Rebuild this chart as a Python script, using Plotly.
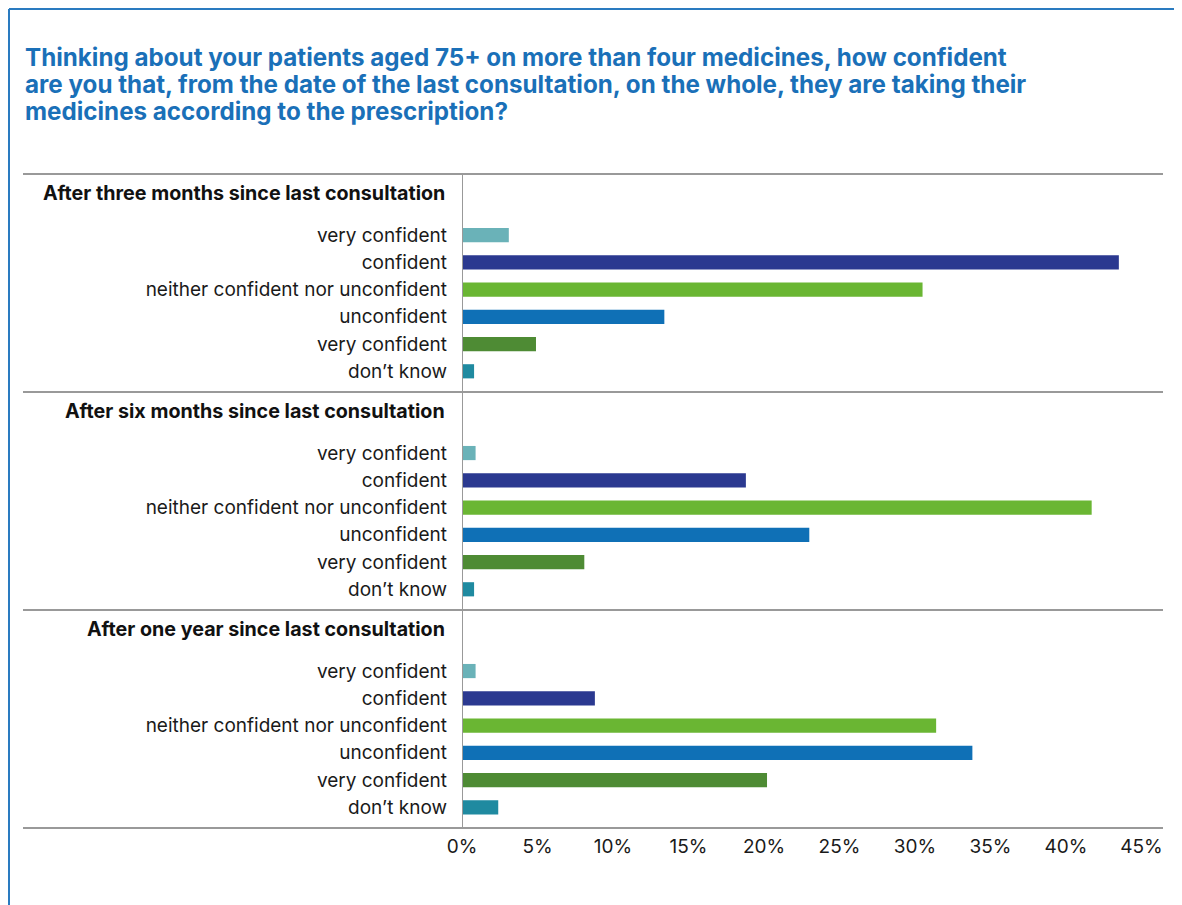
import plotly.graph_objects as go

# ---- data ----
categories = ["very confident", "confident", "neither confident nor unconfident",
              "unconfident", "very confident", "don\u2019t know"]
periods = ["After three months since last consultation",
           "After six months since last consultation",
           "After one year since last consultation"]
three_months = [3.1, 43.5, 30.5, 13.4, 4.9, 0.8]
six_months = [0.9, 18.8, 41.7, 23.0, 8.1, 0.8]
one_year = [0.9, 8.8, 31.4, 33.8, 20.2, 2.4]
period_values = [three_months, six_months, one_year]
bar_colors = ["#6ab2b8", "#2b3990", "#6ab633", "#0f70b6", "#4e8b34", "#1f8aa0"]
tick_values = [0, 5, 10, 15, 20, 25, 30, 35, 40, 45]
tick_labels = ["0%", "5%", "10%", "15%", "20%", "25%", "30%", "35%", "40%", "45%"]
title_lines = [
    "Thinking about your patients aged 75+ on more than four medicines, how confident",
    "are you that, from the date of the last consultation, on the whole, they are taking their",
    "medicines according to the prescription?",
]

# page is rendered with an 8px body margin; work in page pixels and convert
OFF = 8
W, H = 1182 - OFF, 905 - OFF
PL, PR, PT, PB = 462, 1163, 174, 828      # plot area in page pixels
ML, MT = PL - OFF, PT - OFF
MR, MB = W - (PR - OFF), H - (PB - OFF)
plot_w, plot_h = PR - PL, PB - PT


def px_x(p):
    return (p - PL) / plot_w


def px_y(p):
    return (PB - p) / plot_h


SLOT = 8  # rows per group (header + gap + 6 bars)
Y_TOP = -2.24
Y_BOT = 2 * SLOT + 5 + 0.76

FONT = "Inter, Liberation Sans, Arial, sans-serif"

fig = go.Figure()
tickvals, ticktext = [], []
for ci, cat in enumerate(categories):
    ys = [g * SLOT + ci for g in range(len(periods))]
    xs = [period_values[g][ci] for g in range(len(periods))]
    fig.add_trace(go.Bar(x=xs, y=ys, orientation="h", width=0.52,
                         marker=dict(color=bar_colors[ci], line=dict(width=0)),
                         showlegend=False, hoverinfo="x+y"))
for g in range(len(periods)):
    for ci, cat in enumerate(categories):
        tickvals.append(g * SLOT + ci)
        ticktext.append(cat)

shapes = []
annotations = []
line_x0 = px_x(23)
for g, name in enumerate(periods):
    if g > 0:
        ysep = g * SLOT + Y_TOP
        shapes.append(dict(type="line", xref="paper", yref="y", x0=line_x0, x1=1,
                           y0=ysep, y1=ysep, line=dict(color="#999999", width=2)))
    annotations.append(dict(text="<b>" + name + "</b>", xref="paper", yref="y",
                            x=px_x(447), y=g * SLOT - 1.54, xanchor="right",
                            yanchor="middle", showarrow=False,
                            font=dict(family=FONT, size=19.7, color="#111111")))
for li, txt in enumerate(title_lines):
    annotations.append(dict(text="<b>" + txt + "</b>", xref="paper", yref="paper",
                            x=px_x(23), y=px_y(57 + 27.5 * li), xanchor="left",
                            yanchor="middle", showarrow=False,
                            font=dict(family=FONT, size=24.2, color="#1a70b8")))
# top line and bottom axis line
shapes.append(dict(type="line", xref="paper", yref="paper", x0=line_x0, x1=1, y0=1, y1=1,
                   line=dict(color="#999999", width=2)))
shapes.append(dict(type="line", xref="paper", yref="paper", x0=line_x0, x1=1, y0=0, y1=0,
                   line=dict(color="#999999", width=2)))
# vertical axis line
shapes.append(dict(type="line", xref="x", yref="paper", x0=0, x1=0, y0=0, y1=1,
                   line=dict(color="#999999", width=2)))
# outer blue frame (left and top edges)
fx = px_x(OFF + 1)
fy = px_y(OFF + 1)
shapes.append(dict(type="line", xref="paper", yref="paper", x0=fx, x1=fx, y0=fy, y1=-0.3,
                   line=dict(color="#2a7bc0", width=2)))
shapes.append(dict(type="line", xref="paper", yref="paper", x0=fx, x1=1.2, y0=fy, y1=fy,
                   line=dict(color="#2a7bc0", width=2)))

fig.update_layout(
    width=W, height=H,
    margin=dict(l=ML, r=MR, t=MT, b=MB),
    paper_bgcolor="white", plot_bgcolor="white",
    barmode="overlay",
    font=dict(family=FONT, size=19, color="#1a1a1a"),
    xaxis=dict(range=[0, plot_w / 15.1], tickvals=tick_values, ticktext=tick_labels,
               showgrid=False, zeroline=False, showline=False, ticks="",
               ticklabelstandoff=5,
               tickfont=dict(family=FONT, size=19, color="#1a1a1a")),
    yaxis=dict(range=[Y_BOT, Y_TOP], tickvals=tickvals, ticktext=ticktext,
               showgrid=False, zeroline=False, showline=False, ticks="",
               ticklabelstandoff=14,
               tickfont=dict(family=FONT, size=19, color="#1a1a1a")),
    shapes=shapes, annotations=annotations,
)

fig.write_html("out.html")
